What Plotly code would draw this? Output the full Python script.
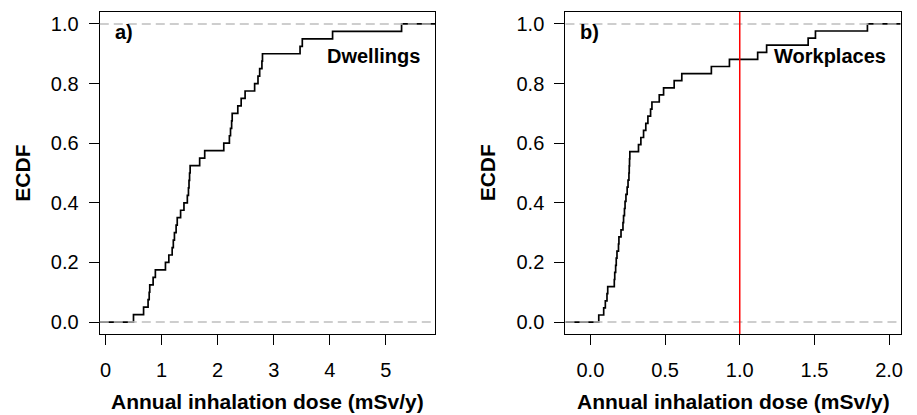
import plotly.graph_objects as go

W, H = 917, 415

# ---------------- data ----------------
dwellings = [0.50, 0.68, 0.76, 0.78, 0.79, 0.85, 0.89, 1.07, 1.13, 1.19,
             1.21, 1.23, 1.26, 1.28, 1.34, 1.40, 1.46, 1.48, 1.49, 1.50,
             1.51, 1.68, 1.77, 2.11, 2.21, 2.23, 2.25, 2.26, 2.36, 2.42,
             2.49, 2.66, 2.72, 2.75, 2.79, 2.80, 3.47, 3.51, 4.05, 5.28]

workplaces = [0.056, 0.089, 0.100, 0.111, 0.116, 0.160, 0.163, 0.169, 0.173, 0.178,
              0.188, 0.191, 0.205, 0.218, 0.222, 0.228, 0.232, 0.238, 0.246, 0.252,
              0.258, 0.260, 0.262, 0.264, 0.322, 0.338, 0.356, 0.371, 0.385, 0.403,
              0.412, 0.461, 0.490, 0.561, 0.612, 0.810, 0.931, 1.120, 1.180, 1.458,
              1.507, 1.855]

x_ticks_a = [0, 1, 2, 3, 4, 5]
x_ticks_b = [0.0, 0.5, 1.0, 1.5, 2.0]
y_ticks = [0.0, 0.2, 0.4, 0.6, 0.8, 1.0]
ref_levels = [0.0, 1.0]
threshold_b = 1.0
panel_tags = ["a)", "b)"]
panel_names = ["Dwellings", "Workplaces"]
x_title = "Annual inhalation dose (mSv/y)"
y_title = "ECDF"

# ---------------- layout geometry ----------------
range_a = [-0.101, 5.877]
range_b = [-0.167, 2.078]
range_y = [-0.04, 1.04]

def px_x(p):
    return p / W

def px_y(p):
    return 1 - p / H

dom_a = [px_x(100), px_x(436)]
dom_b = [px_x(566.7), px_x(902.7)]
dom_y = [px_y(334), px_y(12)]

FONT = "Arial, Liberation Sans, Helvetica, sans-serif"


def ecdf_xy(values, xr):
    v = sorted(values)
    n = len(v)
    xs = [xr[0]] + v + [xr[1]]
    ys = [0.0] + [(i + 1) / n for i in range(n)] + [1.0]
    return xs, ys


fig = go.Figure()

for vals, xr, xa, ya in [(dwellings, range_a, "x", "y"), (workplaces, range_b, "x2", "y2")]:
    xs, ys = ecdf_xy(vals, xr)
    fig.add_trace(go.Scatter(x=xs, y=ys, mode="lines", line_shape="hv",
                             line=dict(color="black", width=1.7),
                             xaxis=xa, yaxis=ya, showlegend=False,
                             hoverinfo="skip"))

common_axis = dict(showline=True, mirror=True, linecolor="black", linewidth=1.3,
                   ticks="outside", ticklen=10, tickwidth=1.3, tickcolor="black",
                   showgrid=False, zeroline=False,
                   tickfont=dict(family=FONT, size=20, color="black"))

fig.update_layout(
    width=W, height=H,
    margin=dict(l=0, r=0, t=0, b=0),
    paper_bgcolor="white", plot_bgcolor="white",
    xaxis=dict(domain=dom_a, range=range_a, tickvals=x_ticks_a,
               ticktext=[str(t) for t in x_ticks_a], anchor="y",
               ticklabelstandoff=8, **common_axis),
    yaxis=dict(domain=dom_y, range=range_y, tickvals=y_ticks,
               ticktext=[f"{t:.1f}" for t in y_ticks], anchor="x",
               ticklabelstandoff=6, **common_axis),
    xaxis2=dict(domain=dom_b, range=range_b, tickvals=x_ticks_b,
                ticktext=[f"{t:.1f}" for t in x_ticks_b], anchor="y2",
                ticklabelstandoff=8, **common_axis),
    yaxis2=dict(domain=dom_y, range=range_y, tickvals=y_ticks,
                ticktext=[f"{t:.1f}" for t in y_ticks], anchor="x2",
                ticklabelstandoff=6, **common_axis),
)

shapes = []
for xa, ya in [("x", "y"), ("x2", "y2")]:
    for lv in ref_levels:
        shapes.append(dict(type="line", xref=f"{xa} domain", yref=ya,
                           x0=0, x1=1, y0=lv, y1=lv, layer="above",
                           line=dict(color="#BEBEBE", width=1.5, dash="9px,5px")))
shapes.append(dict(type="line", xref="x2", yref="y2 domain",
                   x0=threshold_b, x1=threshold_b, y0=0, y1=1, layer="above",
                   line=dict(color="#FF0000", width=1.5)))
fig.update_layout(shapes=shapes)

annotations = []
for i, (dom, xa) in enumerate([(dom_a, "x"), (dom_b, "x2")]):
    cx = (dom[0] + dom[1]) / 2
    annotations.append(dict(text=f"<b>{x_title}</b>", xref="paper", yref="paper",
                            x=cx, y=px_y(401), xanchor="center", yanchor="middle",
                            showarrow=False, font=dict(family=FONT, size=21, color="black")))
    annotations.append(dict(text=f"<b>{y_title}</b>", xref="paper", yref="paper",
                            x=dom[0] - px_x(78.3), y=(dom_y[0] + dom_y[1]) / 2,
                            xanchor="center", yanchor="middle", textangle=-90,
                            showarrow=False, font=dict(family=FONT, size=21, color="black")))
    annotations.append(dict(text=f"<b>{panel_tags[i]}</b>", xref="paper", yref="paper",
                            x=dom[0] + px_x(13), y=px_y(32), xanchor="left", yanchor="middle",
                            showarrow=False, font=dict(family=FONT, size=20, color="black")))
    annotations.append(dict(text=f"<b>{panel_names[i]}</b>", xref="paper", yref="paper",
                            x=dom[1] - px_x(13), y=px_y(56), xanchor="right", yanchor="middle",
                            showarrow=False, font=dict(family=FONT, size=20, color="black")))
fig.update_layout(annotations=annotations)

fig.write_html("out.html", config={"displayModeBar": False},
               post_script="document.body.style.margin='0px';document.body.style.overflow='hidden';")
